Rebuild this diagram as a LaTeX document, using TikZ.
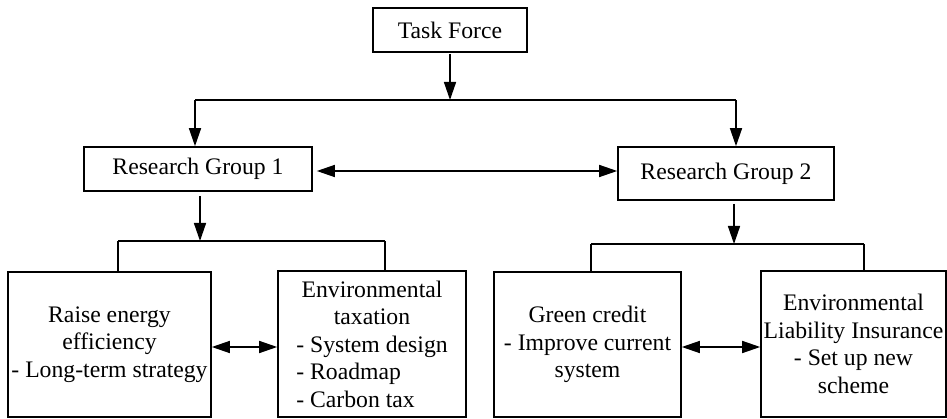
\documentclass[tikz,border=0pt]{standalone}
\usepackage{fontspec}
\setmainfont{Liberation Serif}
\usetikzlibrary{arrows.meta}
\newsavebox\sysbox
\newcommand\myleftrow[1]{\makebox[\wd\sysbox][l]{#1}}
\tikzset{
  box/.style={draw, line width=1.6pt, inner sep=0pt, align=center,
    font=\fontsize{23.7}{27.5}\selectfont},
  conn/.style={line width=1.5pt},
  arr/.style={conn, -{Triangle[length=18pt,width=12pt]}},
  darr/.style={conn, {Triangle[length=18pt,width=12pt]}-{Triangle[length=18pt,width=12pt]}}
}
\begin{document}
\begin{tikzpicture}[x=1pt,y=-1pt]
\useasboundingbox (0,0) rectangle (947,419);
% nodes
\node[box, minimum width=154pt, minimum height=44pt] (TF) at (450,30) {Task Force};
\node[box, minimum width=228pt, minimum height=44pt] (RG1) at (198,169) {Research Group 1};
\node[box, minimum width=216pt, minimum height=53pt] (RG2) at (726,173.5) {Research Group 2};
\node[box, minimum width=203pt, minimum height=145pt] (B1) at (109.5,344.5)
  {Raise energy\\efficiency\\- Long-term strategy};
\node[box, minimum width=188pt, minimum height=146pt] (B2) at (372,344)
  {\global\setbox\sysbox=\hbox{- System design}Environmental\\taxation\\
   \myleftrow{- System design}\\
   \myleftrow{- Roadmap}\\
   \myleftrow{- Carbon tax}};
\node[box, minimum width=187pt, minimum height=145pt] (B3) at (587.5,344.5)
  {Green credit\\- Improve current\\system};
\node[box, minimum width=185pt, minimum height=146pt] (B4) at (853.5,344)
  {Environmental\\Liability Insurance\\- Set up new\\scheme};
% junction coordinates
\coordinate (h1) at (450,100);
\coordinate (h1L) at (195,100);
\coordinate (h1R) at (736,100);
\coordinate (h2) at (200,241);
\coordinate (h2L) at (118,241);
\coordinate (h2R) at (385,241);
\coordinate (h3) at (734,244);
\coordinate (h3L) at (591,244);
\coordinate (h3R) at (864,244);
% connectors
\draw[arr] ([yshift=-1pt]TF.south) -- (h1);
\draw[conn] (h1L) -- (h1R);
\draw[arr] (h1L) -- (h1L |- RG1.north);
\draw[arr] (h1R) -- (h1R |- RG2.north);
\draw[darr] ([shift={(4,2)}]RG1.east) -- (RG2.west |- 0,171);
\draw[arr] ([shift={(2,4)}]RG1.south) -- (h2);
\draw[conn] (h2L) -- (h2R);
\draw[conn] (h2L) -- (h2L |- B1.north);
\draw[conn] (h2R) -- (h2R |- B2.north);
\draw[arr] ([shift={(8,3)}]RG2.south) -- (h3);
\draw[conn] (h3L) -- (h3R);
\draw[conn] (h3L) -- (h3L |- B3.north);
\draw[conn] (h3R) -- (h3R |- B4.north);
\draw[darr] ([shift={(0,2.5)}]B1.east) -- (B2.west |- 0,347);
\draw[darr] ([shift={(0,2.5)}]B3.east) -- (B4.west |- 0,347);
\end{tikzpicture}
\end{document}
